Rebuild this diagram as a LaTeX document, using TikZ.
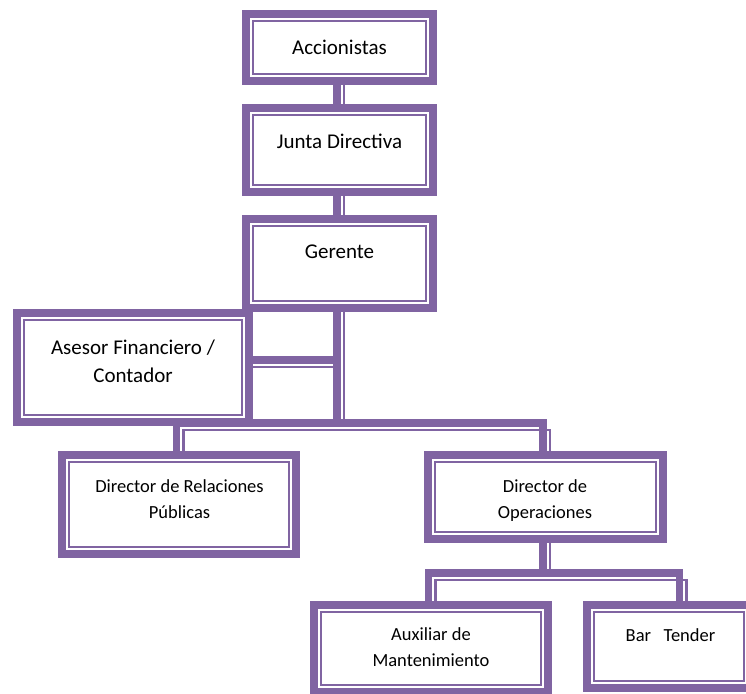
\documentclass[tikz,border=0pt]{standalone}
\usepackage{fontspec}
\setmainfont{Carlito}
\usetikzlibrary{backgrounds}
\definecolor{pur}{RGB}{128,100,162}
\newcommand\bigtxt{\fontsize{21}{28}\selectfont}
\newcommand\smalltxt{\fontsize{18.5}{26}\selectfont}
\tikzset{
  box/.style={draw=pur, line width=8pt, inner sep=0pt,
    path picture={\draw[pur, line width=2.3pt]
      ([xshift=7.2pt,yshift=-7.2pt]path picture bounding box.north west) rectangle
      ([xshift=-7.2pt,yshift=7.2pt]path picture bounding box.south east);}},
  txt/.style={inner sep=0pt, align=center, anchor=base},
  cthick/.style={draw=pur, line width=7.5pt},
  cthin/.style={draw=pur, line width=2.3pt}
}
\begin{document}
\begin{tikzpicture}[x=1pt,y=-1pt]
\useasboundingbox (0,0) rectangle (746,693);
% boxes
\node[box, minimum width=187pt, minimum height=67pt] (acc) at (339.5,47.5) {};
\node[box, minimum width=187pt, minimum height=84pt] (junta) at (339.5,150) {};
\node[box, minimum width=187pt, minimum height=89pt] (ger) at (339.5,263.5) {};
\node[box, minimum width=232pt, minimum height=109pt] (ases) at (133,367.5) {};
\node[box, minimum width=234pt, minimum height=99pt] (drel) at (179,504.5) {};
\node[box, minimum width=235pt, minimum height=84pt] (dop) at (545.5,497) {};
\node[box, minimum width=234pt, minimum height=87pt] (aux) at (431,648.5) {};
\node[box, minimum width=164pt, minimum height=83pt] (bart) at (669,646.5) {};
% texts (base = baseline of the last line)
\node[txt, font=\bigtxt] (tacc) at (339.5,55) {Accionistas};
\node[txt, font=\bigtxt] (tjun) at (339.5,148.3) {Junta Directiva};
\node[txt, font=\bigtxt] (tger) at (339.5,258.3) {Gerente};
\node[txt, font=\bigtxt] (tases) at (133,382) {Asesor Financiero /\\Contador};
\node[txt, font=\smalltxt] (tdrel) at (179.5,518.3) {Director de Relaciones\\Públicas};
\node[txt, font=\smalltxt] (tdop) at (545,518.3) {Director de\\Operaciones};
\node[txt, font=\smalltxt] (taux) at (431,666.7) {Auxiliar de\\Mantenimiento};
\node[txt, font=\smalltxt] (tbart) at (670.5,641.7) {Bar~~~Tender};
% junction coordinates
\coordinate (a1) at (339.5,362.5);
\coordinate (a2) at (ases.east |- a1);
\coordinate (b1) at (339.5,425.5);
\coordinate (b2) at (545.5,575.5);
\coordinate (b3) at (682,575.5);
\coordinate (bt2) at (bart.north -| b3);
\begin{pgfonlayer}{background}
% vertical trunk
\draw[cthick] ([xshift=-2.5pt]acc.south) -- ([xshift=-2.5pt]junta.north);
\draw[cthin]  ([xshift=4.5pt]acc.south) -- ([xshift=4.5pt]junta.north);
\draw[cthick] ([xshift=-2.5pt]junta.south) -- ([xshift=-2.5pt]ger.north);
\draw[cthin]  ([xshift=4.5pt]junta.south) -- ([xshift=4.5pt]ger.north);
\draw[cthick] ([xshift=-2.5pt]ger.south) -- ([xshift=-2.5pt]b1);
\draw[cthin]  ([xshift=4.5pt]ger.south) -- ([xshift=4.5pt]b1);
% assistant
\draw[cthick] ([yshift=2.5pt]a1) -- ([yshift=2.5pt]a2);
\draw[cthin]  ([yshift=-4.5pt]a1) -- ([yshift=-4.5pt]a2);
% directors bar
\draw[cthick] ([xshift=-2.5pt]drel.north) |- ([yshift=2.5pt]b1) -| ([xshift=-2.5pt]dop.north);
\draw[cthin]  ([xshift=4.5pt]drel.north) |- ([yshift=-4.5pt]b1) -| ([xshift=4.5pt]dop.north);
% operations
\draw[cthick] ([xshift=-2.5pt]dop.south) -- ([xshift=-2.5pt]b2);
\draw[cthin]  ([xshift=4.5pt]dop.south) -- ([xshift=4.5pt]b2);
\draw[cthick] ([xshift=-2.5pt]aux.north) |- ([yshift=2.5pt]b2) -| ([xshift=-2.5pt]bt2);
\draw[cthin]  ([xshift=4.5pt]aux.north) |- ([yshift=-4.5pt]b2) -| ([xshift=4.5pt]bt2);
\end{pgfonlayer}
\end{tikzpicture}
\end{document}
